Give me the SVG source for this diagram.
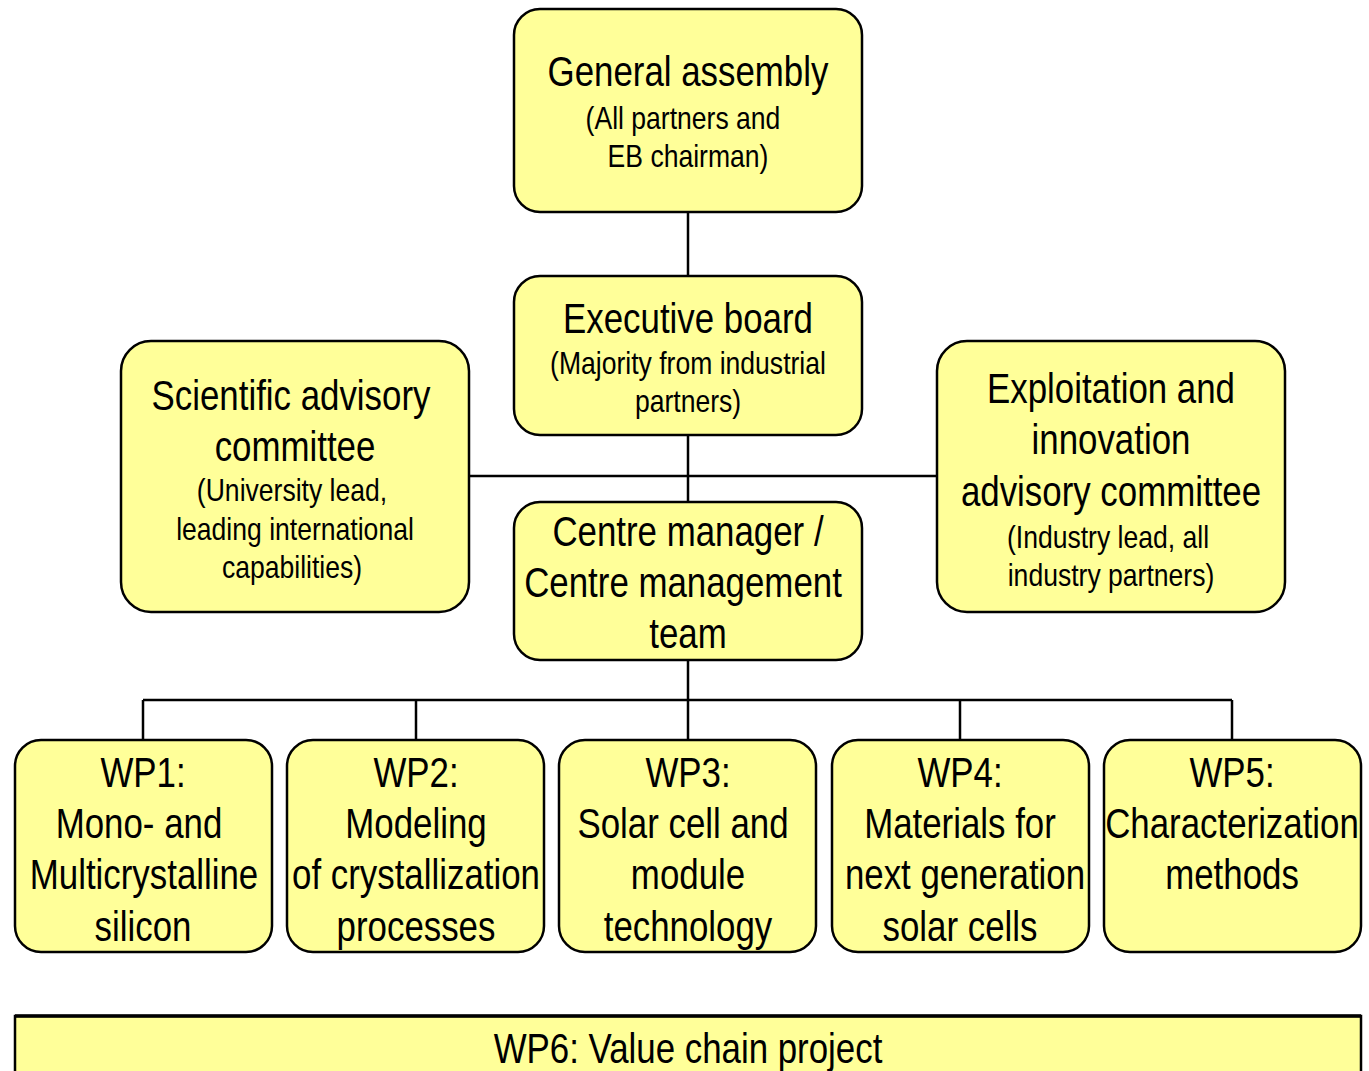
<svg xmlns="http://www.w3.org/2000/svg" width="1369" height="1071" viewBox="0 0 1369 1071">
<style>
.box{fill:#FFFF99;stroke:#000;stroke-width:2.5}
.t{font-family:"Liberation Sans","Arial",sans-serif;fill:#000;text-anchor:middle}
.h{font-size:42px}
.s{font-size:32px}
.c{stroke:#000;stroke-width:2.5;fill:none}
</style>
<rect width="1369" height="1071" fill="#fff"/>
<g id="connectors">
<line class="c" x1="688" y1="212" x2="688" y2="276"/>
<line class="c" x1="688" y1="435" x2="688" y2="502"/>
<line class="c" x1="469" y1="476" x2="937" y2="476"/>
<line class="c" x1="688" y1="660" x2="688" y2="700"/>
<line class="c" x1="143" y1="700" x2="1232" y2="700"/>
<line class="c" x1="143" y1="700" x2="143" y2="740"/>
<line class="c" x1="416" y1="700" x2="416" y2="740"/>
<line class="c" x1="688" y1="700" x2="688" y2="740"/>
<line class="c" x1="960" y1="700" x2="960" y2="740"/>
<line class="c" x1="1232" y1="700" x2="1232" y2="740"/>
</g>
<g id="general-assembly">
<rect class="box" x="514" y="9" width="348" height="203" rx="26"/>
<text class="t h" transform="translate(688 86) scale(0.83 1)">General assembly</text>
<text class="t s" transform="translate(683 129) scale(0.83 1)">(All partners and</text>
<text class="t s" transform="translate(688 167) scale(0.83 1)">EB chairman)</text>
</g>
<g id="executive-board">
<rect class="box" x="514" y="276" width="348" height="159" rx="26"/>
<text class="t h" transform="translate(688 333) scale(0.83 1)">Executive board</text>
<text class="t s" transform="translate(688 374) scale(0.83 1)">(Majority from industrial</text>
<text class="t s" transform="translate(688 412) scale(0.83 1)">partners)</text>
</g>
<g id="scientific-advisory">
<rect class="box" x="121" y="341" width="348" height="271" rx="30"/>
<text class="t h" transform="translate(291 410) scale(0.83 1)">Scientific advisory</text>
<text class="t h" transform="translate(295 461) scale(0.83 1)">committee</text>
<text class="t s" transform="translate(292 501) scale(0.83 1)">(University lead,</text>
<text class="t s" transform="translate(295 540) scale(0.83 1)">leading international</text>
<text class="t s" transform="translate(292 578) scale(0.83 1)">capabilities)</text>
</g>
<g id="exploitation-advisory">
<rect class="box" x="937" y="341" width="348" height="271" rx="30"/>
<text class="t h" transform="translate(1111 403) scale(0.83 1)">Exploitation and</text>
<text class="t h" transform="translate(1111 454) scale(0.83 1)">innovation</text>
<text class="t h" transform="translate(1111 506) scale(0.83 1)">advisory committee</text>
<text class="t s" transform="translate(1108 548) scale(0.83 1)">(Industry lead, all</text>
<text class="t s" transform="translate(1111 586) scale(0.83 1)">industry partners)</text>
</g>
<g id="centre-manager">
<rect class="box" x="514" y="502" width="348" height="158" rx="26"/>
<text class="t h" transform="translate(688 546) scale(0.83 1)">Centre manager /</text>
<text class="t h" transform="translate(683 597) scale(0.83 1)">Centre management</text>
<text class="t h" transform="translate(688 648) scale(0.83 1)">team</text>
</g>
<g id="wp1">
<rect class="box" x="15" y="740" width="257" height="212" rx="26"/>
<text class="t h" transform="translate(143 787) scale(0.83 1)">WP1:</text>
<text class="t h" transform="translate(139 838) scale(0.83 1)">Mono- and</text>
<text class="t h" transform="translate(144 889) scale(0.83 1)">Multicrystalline</text>
<text class="t h" transform="translate(143 941) scale(0.83 1)">silicon</text>
</g>
<g id="wp2">
<rect class="box" x="287" y="740" width="257" height="212" rx="26"/>
<text class="t h" transform="translate(416 787) scale(0.83 1)">WP2:</text>
<text class="t h" transform="translate(416 838) scale(0.83 1)">Modeling</text>
<text class="t h" transform="translate(416 889) scale(0.83 1)">of crystallization</text>
<text class="t h" transform="translate(416 941) scale(0.83 1)">processes</text>
</g>
<g id="wp3">
<rect class="box" x="559" y="740" width="257" height="212" rx="26"/>
<text class="t h" transform="translate(688 787) scale(0.83 1)">WP3:</text>
<text class="t h" transform="translate(683 838) scale(0.83 1)">Solar cell and</text>
<text class="t h" transform="translate(688 889) scale(0.83 1)">module</text>
<text class="t h" transform="translate(688 941) scale(0.83 1)">technology</text>
</g>
<g id="wp4">
<rect class="box" x="832" y="740" width="257" height="212" rx="26"/>
<text class="t h" transform="translate(960 787) scale(0.83 1)">WP4:</text>
<text class="t h" transform="translate(960 838) scale(0.83 1)">Materials for</text>
<text class="t h" transform="translate(965 889) scale(0.83 1)">next generation</text>
<text class="t h" transform="translate(960 941) scale(0.83 1)">solar cells</text>
</g>
<g id="wp5">
<rect class="box" x="1104" y="740" width="257" height="212" rx="26"/>
<text class="t h" transform="translate(1232 787) scale(0.83 1)">WP5:</text>
<text class="t h" transform="translate(1232 838) scale(0.83 1)">Characterization</text>
<text class="t h" transform="translate(1232 889) scale(0.83 1)">methods</text>
</g>
<g id="wp6">
<rect class="box" x="15" y="1016" width="1346" height="80"/>
<line x1="15" y1="1016" x2="1361" y2="1016" stroke="#000" stroke-width="3.5"/>
<text class="t h" transform="translate(688 1063) scale(0.83 1)">WP6: Value chain project</text>
</g>
</svg>
